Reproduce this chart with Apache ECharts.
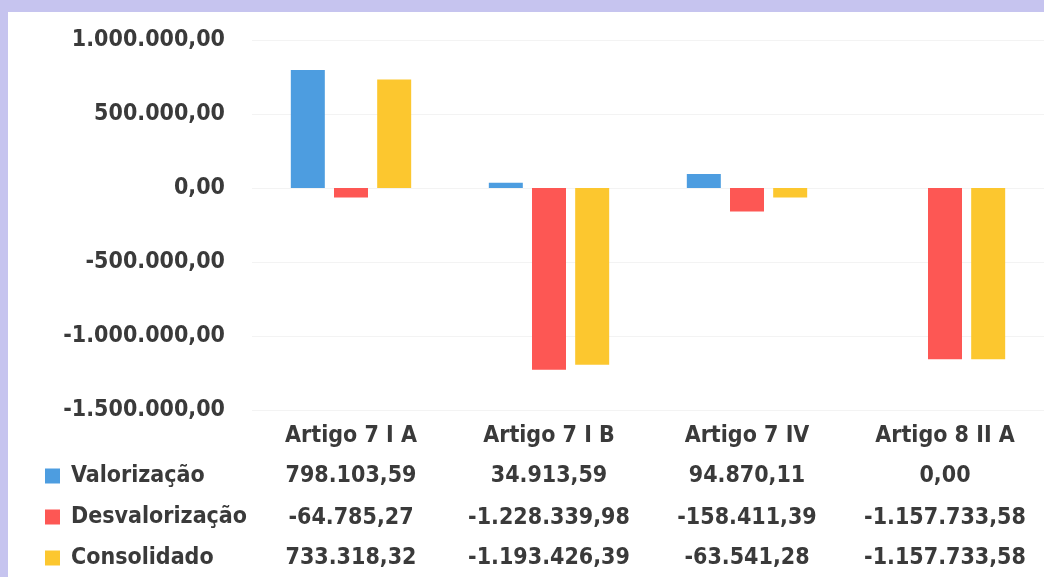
<!DOCTYPE html>
<html>
<head>
<meta charset="utf-8">
<script src="https://cdn.jsdelivr.net/npm/echarts@6/dist/echarts.min.js"></script>
<style>
  html, body { margin: 0; padding: 0; background: #c6c4ef; }
  #chart { position: absolute; left: 8px; top: 12px; width: 1036px; height: 565px; background: #ffffff; }
</style>
</head>
<body>
<div id="chart"></div>
<script>
var categorias = ['Artigo 7 I A', 'Artigo 7 I B', 'Artigo 7 IV', 'Artigo 8 II A'];
var valorizacao = [798103.59, 34913.59, 94870.11, 0.00];
var desvalorizacao = [-64785.27, -1228339.98, -158411.39, -1157733.58];
var consolidado = [733318.32, -1193426.39, -63541.28, -1157733.58];
var nomes = ['Valorização', 'Desvalorização', 'Consolidado'];
var cores = ['#4d9de0', '#fd5754', '#fcc72f'];

// formato pt-BR: 1.234.567,89
function fmt(v) {
  var neg = v < 0;
  var s = Math.abs(v).toFixed(2).split('.');
  var inteiro = s[0].replace(/\B(?=(\d{3})+(?!\d))/g, '.');
  return (neg ? '-' : '') + inteiro + ',' + s[1];
}

var fonte = { fontFamily: '"DejaVu Sans Condensed", "Open Sans"', fontWeight: 'bold', fontSize: 23, color: '#3a3a3a' };

// eixo x extra para cada linha da tabela
function linhaTabela(valores, offset) {
  return {
    type: 'category',
    data: categorias,
    position: 'bottom',
    offset: offset,
    axisLine: { show: false },
    axisTick: { show: false },
    axisLabel: Object.assign({}, fonte, {
      margin: 15,
      interval: 0,
      hideOverlap: false,
      formatter: function (value, index) { return fmt(valores[index]); }
    })
  };
}

var chart = echarts.init(document.getElementById('chart'));
var option = {
  animation: false,
  color: cores,
  grid: { left: 244, right: 0, top: 28, bottom: 167 },
  legend: {
    orient: 'vertical',
    left: 37,
    top: 451,
    padding: 0,
    icon: 'rect',
    itemWidth: 15,
    itemHeight: 15,
    itemGap: 15,
    data: nomes,
    textStyle: Object.assign({}, fonte, { lineHeight: 26, padding: [0, 0, 0, 6] })
  },
  xAxis: [
    {
      type: 'category',
      data: categorias,
      position: 'bottom',
      axisLine: { show: false, onZero: false },
      axisTick: { show: false },
      axisLabel: Object.assign({}, fonte, { margin: 15, interval: 0 })
    },
    linhaTabela(valorizacao, 40),
    linhaTabela(desvalorizacao, 82),
    linhaTabela(consolidado, 122)
  ],
  yAxis: {
    type: 'value',
    min: -1500000,
    max: 1000000,
    interval: 500000,
    axisLine: { show: false },
    axisTick: { show: false },
    splitLine: { lineStyle: { color: '#f3f3f3' } },
    axisLabel: Object.assign({}, fonte, { margin: 27, formatter: fmt })
  },
  series: [
    { name: nomes[0], type: 'bar', data: valorizacao, barWidth: 34, barGap: '27%' },
    { name: nomes[1], type: 'bar', data: desvalorizacao, barWidth: 34, barGap: '27%' },
    { name: nomes[2], type: 'bar', data: consolidado, barWidth: 34, barGap: '27%' }
  ]
};
chart.setOption(option);
</script>
</body>
</html>
